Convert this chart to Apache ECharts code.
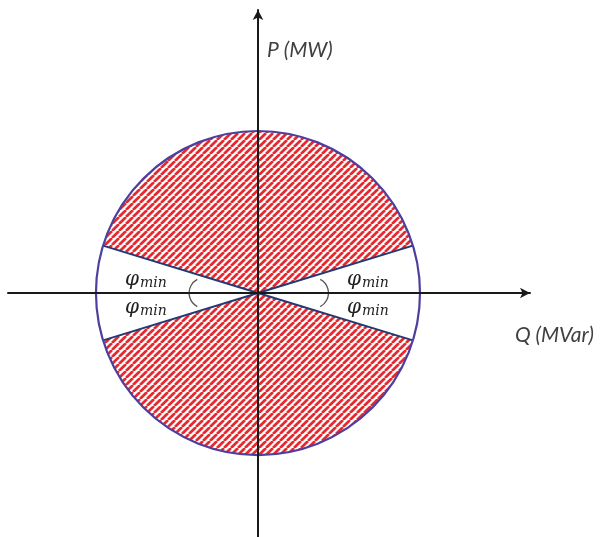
<!DOCTYPE html>
<html>
<head>
<meta charset="utf-8">
<script src="https://cdn.jsdelivr.net/npm/echarts@6/dist/echarts.min.js"></script>
<style>
  html, body { margin: 0; padding: 0; background: #fff; }
  #chart { width: 601px; height: 537px; }
</style>
</head>
<body>
<div id="chart"></div>
<script>
// P-Q capability circle, radius = 1 (rated S)
const circleRadius = 1;
// sectors in math degrees (counter-clockwise from +Q axis)
const hatchedSectors = [[17, 163], [197, 343]];
const blankSectors = [[-17, 17], [163, 197]];
const sectorEdges = [17, 163, 197, 343];
// small angle markers: [centerQ, centerP, radius, startDeg, endDeg]
const angleArcs = [[-0.33, 0, 0.095, 118, 242], [0.34, 0, 0.095, -62, 62]];
const axisNames = ['Q (MVar)', 'P (MW)'];
const angleLabel = 'φ';
const angleSub = 'min';

// red/white diagonal hatch
function makeHatch() {
    const s = 7;
    const c = document.createElement('canvas');
    c.width = s; c.height = s;
    const ctx = c.getContext('2d');
    ctx.fillStyle = '#ffffff';
    ctx.fillRect(0, 0, s, s);
    ctx.strokeStyle = '#e5292e';
    ctx.lineWidth = 2.7;
    for (let k = -1; k <= 1; k++) {
        ctx.beginPath();
        ctx.moveTo(k * s, s);
        ctx.lineTo(k * s + s, 0);
        ctx.stroke();
    }
    return c;
}
const hatch = makeHatch();

const toRad = d => d * Math.PI / 180;

function sectorItem(params, api) {
    const c = api.coord([0, 0]);
    const r = api.size([circleRadius, circleRadius])[0];
    const a0 = api.value(0), a1 = api.value(1);
    return {
        type: 'sector',
        shape: { cx: c[0], cy: c[1], r0: 0, r: r, startAngle: -toRad(a1), endAngle: -toRad(a0), clockwise: true },
        style: { fill: api.value(2) === 1 ? { image: hatch, repeat: 'repeat' } : '#ffffff', stroke: null }
    };
}

const chart = echarts.init(document.getElementById('chart'), null, { renderer: 'canvas' });

const axisCommon = {
    type: 'value', z: 20,
    axisTick: { show: false }, axisLabel: { show: false }, splitLine: { show: false }
};

chart.setOption({
    animation: false,
    backgroundColor: '#ffffff',
    grid: { left: 8, right: 71, top: 10, bottom: 0 },
    xAxis: Object.assign({}, axisCommon, {
        min: -1.543, max: 1.679,
        axisLine: { onZero: true, symbol: ['none', 'arrow'], symbolSize: [8, 10], lineStyle: { color: '#1a1a1a', width: 2 } }
    }),
    yAxis: Object.assign({}, axisCommon, {
        min: -1.506, max: 1.747,
        axisLine: { onZero: true, symbol: ['none', 'arrow'], symbolSize: [8, 10], lineStyle: { color: '#1a1a1a', width: 2 } }
    }),
    series: [
        {
            type: 'custom', z: 1, clip: false,
            data: hatchedSectors.map(s => [s[0], s[1], 1]).concat(blankSectors.map(s => [s[0], s[1], 0])),
            renderItem: sectorItem
        },
        {
            type: 'custom', z: 2, clip: false,
            data: sectorEdges.map(a => [a]),
            renderItem: (params, api) => {
                const c = api.coord([0, 0]);
                const r = api.size([circleRadius, circleRadius])[0];
                const a = toRad(api.value(0));
                return {
                    type: 'line',
                    shape: { x1: c[0], y1: c[1], x2: c[0] + r * Math.cos(a), y2: c[1] - r * Math.sin(a) },
                    style: { stroke: '#243a73', lineWidth: 2 }
                };
            }
        },
        {
            type: 'custom', z: 3, clip: false,
            data: [[0, 0]],
            renderItem: (params, api) => {
                const c = api.coord([api.value(0), api.value(1)]);
                const r = api.size([circleRadius, circleRadius])[0];
                return {
                    type: 'circle',
                    shape: { cx: c[0], cy: c[1], r: r },
                    style: { fill: null, stroke: '#4e3f9e', lineWidth: 2.2 }
                };
            }
        },
        {
            type: 'custom', z: 3, clip: false,
            data: angleArcs,
            renderItem: (params, api) => {
                const c = api.coord([api.value(0), api.value(1)]);
                const r = api.size([api.value(2), api.value(2)])[0];
                return {
                    type: 'arc',
                    shape: { cx: c[0], cy: c[1], r: r, startAngle: -toRad(api.value(4)), endAngle: -toRad(api.value(3)), clockwise: true },
                    style: { fill: null, stroke: '#555555', lineWidth: 1.3 }
                };
            }
        }
    ],
    graphic: [
        { type: 'text', z: 100, left: 267, top: 40, style: { text: axisNames[1], fontFamily: 'Lato', fontStyle: 'italic', fontSize: 21, fill: '#404040' } },
        { type: 'text', z: 100, left: 515, top: 325, style: { text: axisNames[0], fontFamily: 'Lato', fontStyle: 'italic', fontSize: 21, fill: '#404040' } }
    ].concat([[125, 270], [125, 298], [347, 270], [347, 298]].map(p => ({
        type: 'text', z: 100, left: p[0], top: p[1],
        style: {
            text: '{a|' + angleLabel + '}{b|' + angleSub + '}',
            rich: {
                a: { fontFamily: 'DejaVu Serif', fontStyle: 'italic', fontSize: 20, fill: '#222' },
                b: { fontFamily: 'DejaVu Serif', fontStyle: 'italic', fontSize: 14, fill: '#222', padding: [7, 0, 0, 1] }
            }
        }
    })))
});
</script>
</body>
</html>
